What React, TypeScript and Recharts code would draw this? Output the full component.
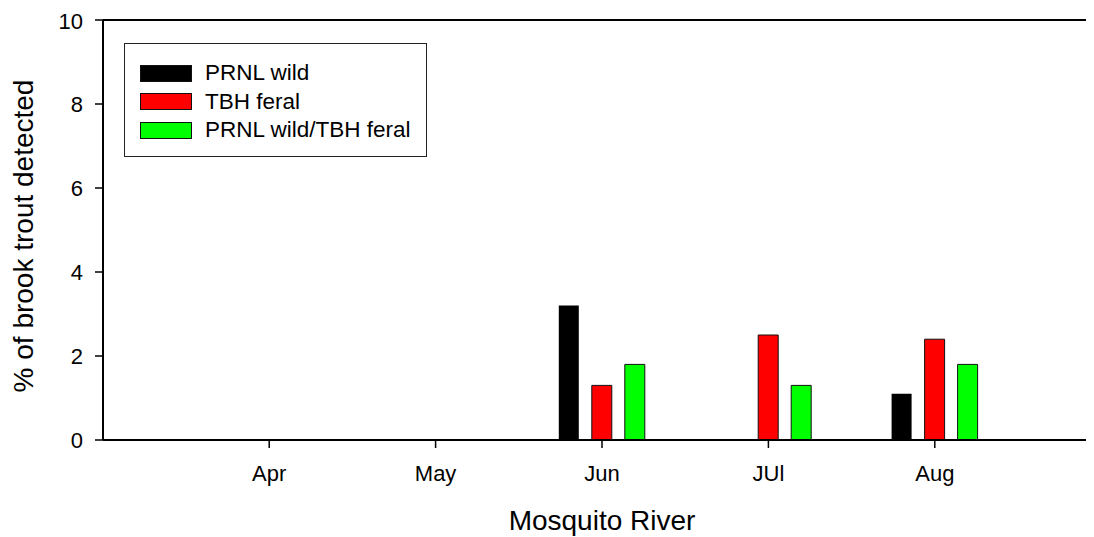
import * as React from "react";
import { BarChart, Bar, XAxis, YAxis, Legend, ReferenceLine } from "recharts";

const months = ["Apr", "May", "Jun", "JUl", "Aug"];
const prnlWild = [0, 0, 3.2, 0, 1.1];
const tbhFeral = [0, 0, 1.3, 2.5, 2.4];
const prnlTbhFeral = [0, 0, 1.8, 1.3, 1.8];
const yTicks = [0, 2, 4, 6, 8, 10];

const seriesNames = ["PRNL wild", "TBH feral", "PRNL wild/TBH feral"];
const seriesColors = ["#000000", "#ff0000", "#00ff00"];

const chartData = months.map((m, i) => ({
  month: m,
  wild: prnlWild[i],
  feral: tbhFeral[i],
  cross: prnlTbhFeral[i],
}));

const FONT = "'Liberation Sans', Arial, Helvetica, sans-serif";

// legend keeps the series order (recharts would sort it by name)
function LegendBox() {
  return (
    <div
      style={{
        width: 303,
        height: 114,
        border: "1px solid #222",
        background: "#fff",
        boxSizing: "border-box",
        paddingTop: 15,
        paddingLeft: 15,
        fontFamily: FONT,
      }}
    >
      {seriesNames.map((name, i) => (
        <div key={name} style={{ display: "flex", alignItems: "center", height: 28.5 }}>
          <span
            style={{
              display: "inline-block",
              width: 50,
              height: 15,
              background: seriesColors[i],
              border: "1px solid #111",
              marginRight: 13,
            }}
          />
          <span style={{ fontSize: 22.5, color: "#000", lineHeight: "28px" }}>{name}</span>
        </div>
      ))}
    </div>
  );
}

function YTitle() {
  return (
    <text
      x={25}
      y={228}
      transform="rotate(-90, 25, 228)"
      textAnchor="middle"
      fontSize={28}
      fill="#000"
    >
      % of brook trout detected
    </text>
  );
}

export default function App() {
  return (
    <div style={{ width: 1086, height: 529, overflow: "hidden", fontFamily: FONT, background: "#fff" }}>
      <BarChart
        width={1100}
        height={529}
        data={chartData}
        margin={{ top: 12, right: 7, bottom: 7, left: 35 }}
        barSize={20}
        barGap={13}
      >
        <ReferenceLine y={10} stroke="#000" strokeWidth={2} />
        <XAxis
          dataKey="month"
          padding={{ left: 83, right: 83 }}
          height={90}
          stroke="#000"
          axisLine={{ stroke: "#000", strokeWidth: 2 }}
          tickLine={{ stroke: "#000", strokeWidth: 1.5 }}
          tickSize={8}
          tickMargin={17}
          tick={{ fill: "#000", fontSize: 22 }}
          label={{ value: "Mosquito River", position: "insideBottom", offset: 0, fill: "#000", fontSize: 28 }}
        />
        <YAxis
          domain={[0, 10]}
          ticks={yTicks}
          width={60}
          stroke="#000"
          axisLine={{ stroke: "#000", strokeWidth: 2 }}
          tickLine={{ stroke: "#000", strokeWidth: 1.5 }}
          tickSize={8}
          tickMargin={12}
          tick={{ fill: "#000", fontSize: 22 }}
          label={{ content: () => <YTitle /> }}
        />
        <Legend
          layout="vertical"
          align="center"
          verticalAlign="middle"
          content={<LegendBox />}
          wrapperStyle={{ position: "absolute", top: 35, left: 116, width: 303, height: 114 }}
        />
        <Bar dataKey="wild" name={seriesNames[0]} fill={seriesColors[0]} isAnimationActive={false} />
        <Bar dataKey="feral" name={seriesNames[1]} fill={seriesColors[1]} stroke="#111" strokeWidth={1} isAnimationActive={false} />
        <Bar dataKey="cross" name={seriesNames[2]} fill={seriesColors[2]} stroke="#111" strokeWidth={1} isAnimationActive={false} />
      </BarChart>
    </div>
  );
}
